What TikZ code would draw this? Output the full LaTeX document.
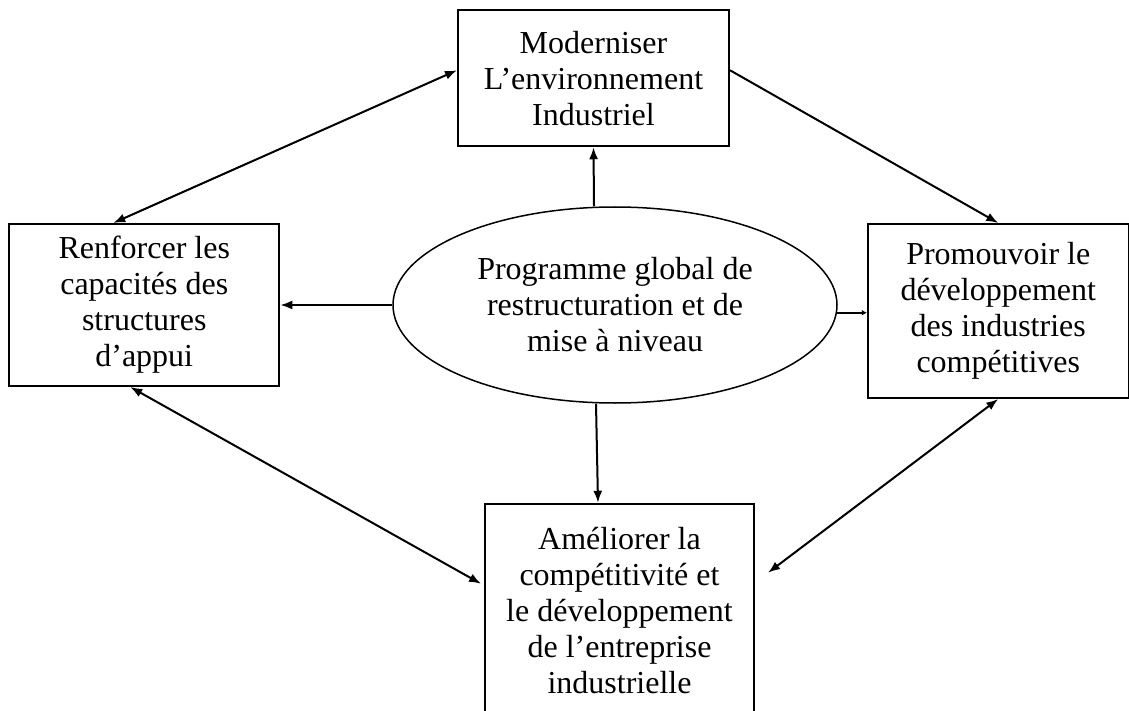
\documentclass[tikz,border=0pt]{standalone}
\usepackage{fontspec}
\setmainfont{Liberation Serif}
\usepackage{tikz}
\usetikzlibrary{arrows.meta,positioning,shapes.geometric,calc}

\begin{document}
\begin{tikzpicture}[
  x=1pt, y=-1pt,
  box/.style={draw, line width=2pt, align=center, inner sep=0pt, font=\fontsize{32}{36}\selectfont},
  oval/.style={draw, ellipse, line width=1.5pt, align=center, inner sep=0pt, minimum width=444pt, minimum height=196pt, font=\fontsize{32}{36}\selectfont},
  arrow/.style={-{Latex[length=12pt,width=9pt]}, line width=2pt},
  biarrow/.style={{Latex[length=12pt,width=9pt]}-{Latex[length=12pt,width=9pt]}, line width=2pt}
]
\useasboundingbox (0,0) rectangle (1129,711);
\node[oval] (prog) at (615,305) {Programme global de\\restructuration et de\\mise à niveau};
\node[box, minimum width=271pt, minimum height=136pt, above=59pt of prog, xshift=-21.5pt] (moder) {Moderniser\\L’environnement\\Industriel};
\node[box, minimum width=270pt, minimum height=162pt, left=112pt of prog] (renf) {Renforcer les\\capacités des\\structures\\d’appui};
\node[box, minimum width=261pt, minimum height=174pt, right=29pt of prog, yshift=-6pt] (prom) {Promouvoir le\\développement\\des industries\\compétitives};
\node[box, minimum width=269pt, minimum height=214pt, below=99pt of prog, xshift=4.5pt] (amel) {Améliorer la\\compétitivité et\\le développement\\de l’entreprise\\industrielle};

\draw[arrow] ([xshift=-21pt]prog.north) -- (moder.south);
\draw[arrow] (prog.west) -- (renf.east);
\draw[-{Latex[length=5pt,width=6pt]}, line width=2pt] (prog.-2.6) -- (prog.-2.6 -| prom.west);
\draw[arrow] ([xshift=-19pt]prog.south) -- ([xshift=-21.5pt]amel.north);

\draw[biarrow] ([xshift=-31pt]renf.north) -- ([yshift=8pt]moder.west);
\draw[arrow] ([yshift=8pt]moder.east) -- (prom.north);
\draw[biarrow] ([xshift=-14pt]renf.south) -- ([xshift=-3pt,yshift=-81pt]amel.north west);
\draw[biarrow] (prom.south) -- ([xshift=13pt,yshift=-70pt]amel.north east);
\end{tikzpicture}
\end{document}
